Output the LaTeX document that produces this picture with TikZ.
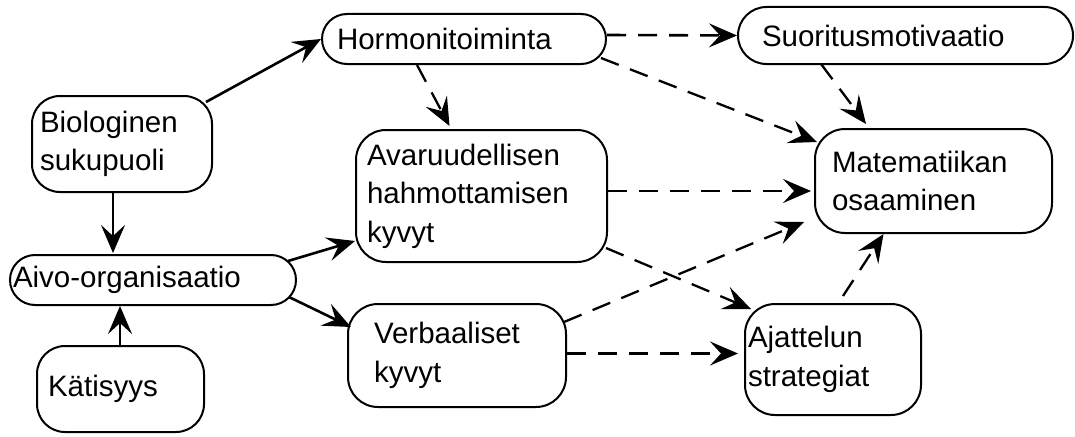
\documentclass[tikz,border=0pt]{standalone}
\usepackage{fontspec}
\setmainfont{Liberation Sans}
\usetikzlibrary{arrows.meta,calc}
\begin{document}
\begin{tikzpicture}[x=1pt,y=-1pt,
  box/.style={draw, line width=2pt, align=left, inner ysep=0pt,
    font=\fontsize{29.5}{38.5}\selectfont, anchor=center},
  tip/.style={-{Stealth[length=28pt,width=24pt,inset=11pt]}},
  solidarr/.style={tip, line width=2.6pt},
  dasharr/.style={tip, line width=2.3pt, dash pattern=on 19pt off 12pt},
]
\useasboundingbox (0,0) rectangle (1075,436);

\node[box, rounded corners=28pt, text width=164pt, inner xsep=8pt, minimum height=96pt] (bio) at (122,144) {Biologinen\\sukupuoli};
\node[box, rounded corners=25pt, text width=254pt, inner xsep=15pt, minimum height=50pt] (hor) at (464,39) {Hormonitoiminta};
\node[box, rounded corners=28.5pt, text width=287pt, inner xsep=24pt, minimum height=57pt] (suo) at (905.5,35.5) {Suoritusmotivaatio};
\node[box, rounded corners=30pt, text width=203pt, inner xsep=17pt, minimum height=104pt] (mat) at (933.5,181) {Matematiikan\\osaaminen};
\node[box, rounded corners=30pt, text width=229pt, inner xsep=11pt, minimum height=132pt] (ava) at (481.5,196) {Avaruudellisen\\hahmottamisen\\kyvyt};
\node[box, rounded corners=25pt, text width=280pt, inner xsep=3pt, minimum height=50pt] (aivo) at (153,280) {Aivo-organisaatio};
\node[box, rounded corners=28pt, text width=145pt, inner xsep=11pt, minimum height=86pt] (kat) at (120.5,389) {Kätisyys};
\node[box, rounded corners=30pt, text width=166pt, inner xsep=26pt, minimum height=103pt] (ver) at (457,355.5) {Verbaaliset\\kyvyt};
\node[box, rounded corners=30pt, text width=170pt, inner xsep=3pt, minimum height=111pt] (aja) at (833,359.5) {Ajattelun\\strategiat};

% solid arrows
\draw[solidarr] ($(bio.north east)+(-7,7)$) -- (hor.west);
\draw[solidarr] ($(bio.south)+(-9,0)$) -- ($(aivo.north)+(-40,-1)$);
\draw[solidarr] ($(kat.north)+(-0.5,0)$) -- ($(aivo.south)+(-33,0)$);
\draw[solidarr] ($(aivo.east)+(-9,-19)$) -- ($(ava.south west)+(0,-22)$);
\draw[solidarr] ($(aivo.east)+(-8,17)$) -- ($(ver.north west)+(4,24)$);

% dashed arrows
\draw[dasharr] ($(hor.south)+(-47,0)$) -- ($(ava.north)+(-32,-3)$);
\draw[dasharr, line width=2.6pt] ($(hor.east)+(0,-4)$) -- (suo.west);
\draw[dasharr] ($(hor.south east)+(-6,-7)$) -- ($(mat.north west)+(3,14)$);
\draw[dasharr] ($(suo.south west)+(84,-1)$) -- ($(mat.north west)+(52,-4)$);
\draw[dasharr, line width=2.8pt] ($(ava.east)+(0,-5)$) -- ($(mat.west)+(-3,10)$);
\draw[dasharr] ($(ava.south east)+(-2,-15)$) -- ($(aja.north west)+(7,6)$);
\draw[dasharr] ($(ver.north east)+(-3,19)$) -- ($(mat.south west)+(-10,-12)$);
\draw[dasharr, line width=2.8pt] ($(ver.east)+(0,-2)$) -- ($(aja.west)+(-6,-6)$);
\draw[dasharr] ($(aja.north)+(10,-7)$) -- ($(mat.south)+(-50,0)$);
\end{tikzpicture}
\end{document}
